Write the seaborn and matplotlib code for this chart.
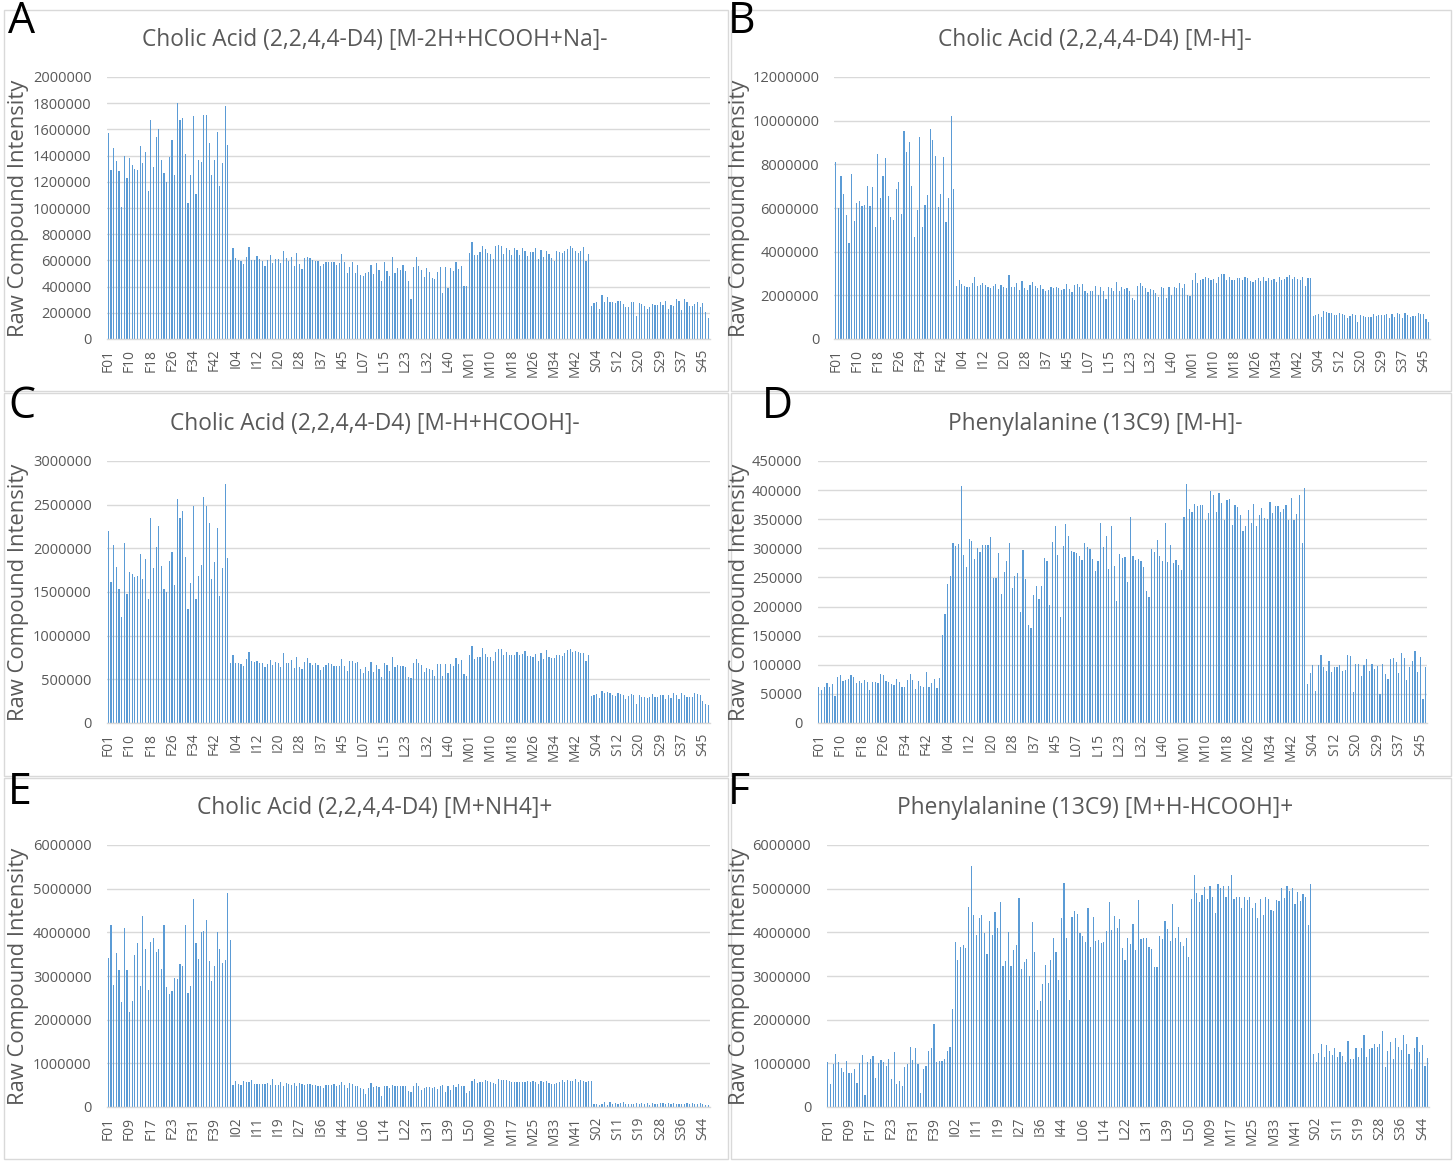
import numpy as np
import pandas as pd
import matplotlib
matplotlib.use("Agg")
import matplotlib.pyplot as plt
import seaborn as sns
from matplotlib.patches import Rectangle
from matplotlib.ticker import FuncFormatter

# ---------------------------------------------------------------- samples
def wells(prefix, first, last, skip=(), extra=()):
    """Well names of one plate, in injection order."""
    out = []
    for i in range(first, last + 1):
        if i in skip:
            continue
        out.append(f"{prefix}{i:02d}")
        if i in extra:
            out.append(f"{prefix}{i:02d}b")
    return out

# negative-ion injections
neg_samples = (wells("F", 1, 47, skip=(5,)) + wells("I", 2, 47, skip=(33,)) +
               wells("L", 2, 47, skip=(27,)) + wells("M", 1, 47, skip=(5,)) +
               wells("S", 2, 47, skip=(25,)))
# positive-ion injections
pos_samples = (wells("F", 1, 45, extra=(19, 21)) + wells("I", 1, 46, skip=(7, 31)) +
               wells("L", 1, 50, skip=(26, 42, 45, 48)) + wells("M", 1, 47, skip=(4,)) +
               wells("S", 1, 46, skip=(6, 23)))

# ---------------------------------------------------------------- intensities (thousands)
A_F = [1570, 1290, 1460, 1360, 1280, 1010, 1400, 1230, 1380, 1330, 1300, 1290, 1470, 1340, 1430,
       1130, 1670, 1310, 1540, 1600, 1370, 1270, 1200, 1390, 1520, 1250, 1800, 1670, 1690, 1410,
       1040, 1250, 1700, 1110, 1370, 1350, 1710, 1710, 1500, 1250, 1370, 1580, 1170, 1340, 1780, 1480]
A_IL = [600, 693, 617, 600, 594, 573, 624, 703, 604, 604, 634, 611, 594, 558, 604, 640, 578, 614,
        609, 578, 673, 617, 599, 624, 558, 657, 573, 538, 617, 624, 622, 604, 596, 594, 558, 573,
        589, 589, 591, 584, 563, 578, 652, 584, 507, 550, 591, 505, 563, 492, 484, 507, 512, 563,
        494, 578, 527, 446, 584, 522, 484, 624, 502, 543, 525, 563, 517, 446, 308, 548, 629, 558,
        527, 474, 540, 515, 464, 461, 515, 548, 354, 553, 387, 543, 517, 589, 535, 558, 405, 405]
A_M = [655, 744, 640, 645, 665, 713, 690, 660, 647, 611, 713, 716, 713, 650, 698, 680, 640, 696,
       680, 642, 693, 673, 634, 662, 665, 696, 614, 680, 624, 673, 652, 622, 599, 673, 662, 660,
       675, 688, 708, 698, 668, 660, 673, 706, 596, 650]
A_S = [252, 273, 283, 232, 334, 280, 318, 283, 283, 278, 290, 290, 268, 247, 242, 280, 280, 176,
       273, 265, 255, 229, 242, 265, 257, 262, 283, 260, 290, 232, 260, 250, 303, 290, 222, 303,
       283, 255, 255, 268, 283, 242, 273, 204, 160]

B_F = [8100, 6000, 7480, 6650, 5660, 4400, 7550, 5410, 6250, 6320, 6100, 6150, 7000, 6100, 6940,
       5150, 8490, 6470, 7480, 8300, 6560, 5600, 5460, 6850, 7190, 5730, 9540, 8560, 9040, 7030,
       4680, 5920, 9270, 5110, 6150, 6610, 9630, 9130, 8380, 6060, 6650, 8320, 5340, 6470, 10230, 6880]
B_IL = [2430, 2720, 2540, 2420, 2370, 2370, 2570, 2840, 2430, 2460, 2570, 2480, 2370, 2340, 2430,
        2520, 2310, 2490, 2370, 2340, 2940, 2390, 2390, 2550, 2260, 2650, 2350, 2250, 2490, 2600,
        2430, 2350, 2460, 2290, 2220, 2250, 2390, 2350, 2390, 2320, 2250, 2290, 2540, 2310, 2140,
        2460, 2510, 2370, 2520, 2190, 2090, 2200, 2190, 2450, 2020, 2400, 2220, 1830, 2400, 2320,
        2200, 2610, 2190, 2390, 2290, 2350, 2220, 1880, 1770, 2430, 2550, 2430, 2320, 2160, 2290,
        2250, 2090, 1910, 2390, 2340, 1880, 2390, 2000, 2390, 2320, 2550, 2340, 2510, 2000, 1970]
B_M = [2710, 3030, 2580, 2710, 2770, 2860, 2810, 2690, 2740, 2580, 2860, 2980, 2980, 2690, 2840,
       2720, 2680, 2780, 2780, 2720, 2830, 2800, 2660, 2610, 2710, 2800, 2660, 2830, 2660, 2800,
       2690, 2740, 2610, 2830, 2690, 2750, 2860, 2920, 2750, 2830, 2750, 2710, 2840, 2450, 2800, 2780]
B_S = [1070, 1100, 1130, 990, 1280, 1220, 1210, 1180, 1120, 1100, 1180, 1130, 1100, 960, 1040,
       1130, 1120, 760, 1100, 1050, 1020, 990, 1020, 1160, 1050, 1090, 1090, 1100, 1130, 950,
       1130, 990, 1210, 1130, 950, 1190, 1120, 1010, 1050, 1050, 1190, 1130, 1130, 920, 780]

C_F = [2200, 1620, 2040, 1790, 1530, 1210, 2060, 1480, 1730, 1710, 1670, 1680, 1930, 1650, 1880,
       1420, 2350, 1770, 2010, 2260, 1800, 1530, 1500, 1850, 1960, 1580, 2570, 2350, 2430, 1900,
       1300, 1600, 2480, 1420, 1680, 1810, 2590, 2490, 2290, 1650, 1840, 2230, 1450, 1770, 2740, 1890]
C_IL = [683, 782, 687, 687, 672, 653, 737, 817, 706, 699, 714, 687, 687, 641, 679, 721, 660, 699,
        683, 645, 802, 683, 683, 718, 626, 760, 637, 622, 695, 748, 683, 668, 683, 668, 607, 645,
        668, 683, 676, 653, 653, 656, 733, 656, 595, 710, 710, 687, 699, 618, 576, 645, 592, 699,
        580, 664, 618, 527, 687, 668, 599, 752, 645, 664, 649, 653, 645, 527, 511, 687, 733, 687,
        664, 588, 630, 618, 611, 538, 676, 676, 542, 676, 576, 676, 656, 748, 679, 718, 557, 542]
C_M = [779, 882, 737, 756, 760, 859, 790, 760, 752, 706, 809, 847, 847, 779, 813, 775, 779, 779,
       809, 779, 794, 824, 767, 767, 756, 790, 714, 802, 737, 836, 760, 748, 748, 775, 775, 771,
       798, 836, 847, 817, 824, 813, 802, 798, 710, 782]
C_S = [313, 317, 332, 290, 366, 347, 355, 344, 324, 313, 344, 328, 317, 279, 313, 332, 324, 218,
       324, 298, 298, 282, 298, 332, 302, 302, 321, 324, 275, 324, 282, 344, 324, 275, 347, 324,
       294, 298, 298, 344, 332, 324, 256, 221, 210]

D_F = [61.8, 57.2, 61.2, 68.6, 61.8, 67.5, 46.9, 79.5, 82.9, 72.6, 74.4, 76.1, 82.4, 78.4, 69.2,
       72.1, 69.2, 73.8, 70.9, 57.2, 69.8, 69.8, 68.6, 83.5, 82.4, 72.6, 70.9, 67.5, 65.2, 76.1,
       70.4, 61.8, 61.8, 73.8, 84.1, 73.8, 58.3, 71.5, 64.1, 61.8, 88.1, 61.8, 68.1, 75.5, 60.1, 77.8]
D_IL = [151.6, 187, 239, 252, 309, 304, 307, 407, 288, 268, 316, 313, 282, 301, 293, 306, 306, 306,
        319, 249, 249, 292, 221, 259, 279, 309, 232, 253, 258, 190, 297, 248, 168, 164, 220, 235,
        213, 235, 284, 279, 202, 311, 338, 288, 182, 304, 342, 322, 296, 293, 292, 287, 280, 309,
        303, 298, 282, 261, 278, 344, 303, 321, 264, 339, 270, 210, 290, 284, 285, 242, 353, 287,
        280, 281, 279, 268, 227, 216, 299, 293, 315, 286, 279, 343, 276, 305, 275, 280, 272, 263]
D_M = [354, 410, 368, 363, 376, 372, 374, 374, 349, 360, 399, 392, 363, 395, 378, 349, 383, 384,
       340, 374, 371, 357, 330, 338, 366, 343, 376, 339, 357, 369, 352, 351, 379, 361, 372, 373,
       362, 368, 375, 348, 387, 348, 359, 392, 309, 403]
D_S = [66.9, 86.4, 100, 55.5, 99, 116, 95.5, 89.8, 107, 87, 96.7, 95.5, 99.5, 88.7, 91, 116, 115,
       53.2, 102, 102, 80.7, 99.5, 110, 88.7, 102, 92.7, 98.4, 50.3, 102, 84.1, 76.1, 110, 112, 104,
       86.4, 121, 111, 73.8, 96.7, 106, 124, 88.1, 113, 41.2, 96.7]

E_F = [3420, 4170, 2800, 3520, 3130, 2400, 4090, 3140, 2180, 2420, 3470, 3750, 2780, 4370, 3610,
       2670, 3790, 3860, 3540, 3610, 3170, 4170, 2740, 2580, 2650, 2950, 2940, 3280, 3230, 4170,
       2620, 2780, 4760, 3750, 3390, 4010, 4040, 4280, 3340, 2880, 3220, 4010, 3620, 3300, 3360,
       4890, 3830]
E_IL = [497, 589, 520, 497, 596, 566, 566, 612, 520, 520, 535, 520, 535, 558, 505, 635, 512, 512,
        566, 482, 558, 520, 512, 558, 474, 558, 535, 512, 535, 520, 505, 497, 489, 482, 443, 497,
        497, 505, 520, 482, 505, 581, 512, 443, 550, 520, 489, 474, 443, 420, 298, 436, 550, 459,
        482, 466, 252, 489, 482, 443, 505, 474, 482, 482, 474, 474, 367, 352, 489, 550, 482, 390,
        436, 451, 460, 443, 451, 405, 474, 497, 352, 489, 398, 497, 466, 528, 489, 482, 329, 375]
E_M = [589, 650, 558, 566, 573, 619, 589, 581, 558, 535, 635, 619, 612, 619, 604, 573, 581, 581,
       566, 581, 573, 596, 581, 589, 573, 535, 604, 573, 596, 550, 535, 535, 550, 581, 627, 581,
       627, 596, 604, 650, 581, 612, 596, 566, 596, 604]
E_S = [61, 69, 54, 61, 115, 46, 107, 76, 99, 76, 92, 107, 69, 76, 61, 61, 84, 76, 84, 76, 84, 54,
       84, 61, 76, 84, 84, 69, 84, 61, 84, 69, 76, 61, 76, 84, 76, 84, 76, 61, 99, 69, 46, 38]

F_F = [1030, 530, 990, 1220, 1020, 890, 800, 1050, 790, 790, 880, 540, 1000, 1180, 280, 1020, 1090,
       1160, 670, 1010, 1070, 1030, 930, 1110, 630, 1250, 520, 600, 490, 910, 990, 1380, 1070, 1340,
       990, 330, 860, 950, 1280, 1360, 1900, 1040, 1060, 1060, 1090, 1290, 1380]
F_IL = [2240, 3790, 3360, 3670, 3700, 3630, 4570, 5510, 4390, 3950, 4330, 4400, 3990, 3510, 4270,
        3930, 4460, 4110, 4690, 3230, 3340, 4000, 3240, 3590, 3720, 4790, 3160, 3320, 3390, 3000,
        4240, 3540, 2210, 2430, 2810, 3260, 2850, 3370, 3880, 3540, 2900, 4320, 5120, 3870, 2440,
        4360, 4500, 4410, 3980, 3920, 3780, 4550, 3670, 4360, 3800, 3830, 3750, 3790, 4020, 4690,
        4050, 4380, 4100, 4300, 3650, 3360, 3880, 3740, 4180, 3590, 4740, 3850, 3880, 3880, 3670,
        3610, 3210, 3210, 3910, 3850, 4270, 4080, 3810, 4660, 3880, 4130, 3770, 3690, 3870, 3430]
F_M = [4760, 5310, 4900, 4690, 4850, 5040, 4760, 5050, 4810, 4440, 5110, 5020, 5070, 4810, 5060,
       5310, 4760, 4820, 4800, 4550, 4800, 4730, 4800, 4560, 4670, 4330, 4760, 4400, 4800, 4760,
       4510, 4490, 4740, 4720, 5020, 4780, 5050, 4950, 5010, 4660, 4920, 4710, 4880, 4800, 4170, 5100]
F_S = [1210, 1030, 1240, 1440, 1140, 1430, 1290, 1180, 1350, 1140, 1270, 1170, 1020, 1520, 1090,
       1090, 1340, 1150, 1350, 1650, 1150, 1320, 1350, 1440, 1380, 1440, 1750, 920, 1280, 1480,
       1090, 1570, 1380, 1300, 1650, 1440, 1220, 860, 1350, 1610, 1270, 1430, 950, 1130]

# ---------------------------------------------------------------- panels
W, H = 1455, 1161
panels = [
    # letter, title, samples, values, ymax, ystep, axes box (l, t, r, b) px, letter xy, column, row
    ("A", "Cholic Acid (2,2,4,4-D4) [M-2H+HCOOH+Na]-", neg_samples, A_F + A_IL + A_M + A_S,
     2000000, 200000, (107, 77, 709.5, 339), (8, 22), 0, 0),
    ("B", "Cholic Acid (2,2,4,4-D4) [M-H]-", neg_samples, B_F + B_IL + B_M + B_S,
     12000000, 2000000, (834.5, 77, 1430, 339), (728, 22), 1, 0),
    ("C", "Cholic Acid (2,2,4,4-D4) [M-H+HCOOH]-", neg_samples, C_F + C_IL + C_M + C_S,
     3000000, 500000, (107, 461, 709.5, 723), (8, 407), 0, 1),
    ("D", "Phenylalanine (13C9) [M-H]-", neg_samples, D_F + D_IL + D_M + D_S,
     450000, 50000, (817.5, 461, 1427, 723), (762, 407), 1, 1),
    ("E", "Cholic Acid (2,2,4,4-D4) [M+NH4]+", pos_samples, E_F + E_IL + E_M + E_S,
     6000000, 1000000, (107, 845, 709.5, 1107), (8, 793), 0, 2),
    ("F", "Phenylalanine (13C9) [M+H-HCOOH]+", pos_samples, F_F + F_IL + F_M + F_S,
     6000000, 1000000, (826.5, 845, 1429, 1107), (728, 793), 1, 2),
]

col_frames = [(4, 728), (731, 1451)]
row_frames = [(10, 391), (393, 776), (778, 1159)]
title_cx = [375, 1095]
ylabel_x = [19, 739]

BAR = "#5B9BD5"
GRID = "#D9D9D9"
TXT = "#595959"
FAMILY = ["Open Sans", "DejaVu Sans"]

sns.set_theme(style="white")
plt.rcParams["font.family"] = FAMILY

fig = plt.figure(figsize=(W / 100, H / 100), dpi=100)
renderer = fig.canvas.get_renderer()


def fx(x):
    return x / W


def fy(y):
    return 1 - y / H


def size_for(text, target_px, rotation=0, axis="w"):
    """Font size (pt) at which `text` spans target_px pixels."""
    probe = fig.text(0, 0, text, fontsize=10, rotation=rotation)
    bb = probe.get_window_extent(renderer)
    probe.remove()
    span = bb.width if axis == "w" else bb.height
    return 10 * target_px / span


TITLE_PT = size_for("Cholic Acid (2,2,4,4-D4) [M-2H+HCOOH+Na]-", 464)
YLABEL_PT = size_for("Raw Compound Intensity", 258)
YTICK_PT = size_for("2000000", 59)
XTICK_PT = size_for("F01", 23)
LETTER_PT = size_for("A", 27)

for letter, title, samples, vals_k, ymax, ystep, box, lpos, col, row in panels:
    values = np.asarray(vals_k, dtype=float) * 1000
    assert len(values) == len(samples), (letter, len(values), len(samples))
    df = pd.DataFrame({"sample": samples, "intensity": values})

    # chart frame
    x0, x1 = col_frames[col]
    y0, y1 = row_frames[row]
    fig.add_artist(Rectangle((fx(x0), fy(y1)), fx(x1) - fx(x0), fy(y0) - fy(y1),
                             transform=fig.transFigure, fill=False, edgecolor=GRID, linewidth=1))

    l, t, r, b = box
    ax = fig.add_axes([fx(l), fy(b), fx(r) - fx(l), fy(t) - fy(b)])
    sns.barplot(data=df, x="sample", y="intensity", order=samples, color=BAR,
                saturation=1, width=0.45, linewidth=0, ax=ax)
    ax.set_xlim(-0.5, len(samples) - 0.5)
    ax.set_ylim(0, ymax)
    ax.set_yticks(np.arange(0, ymax + 1, ystep))
    ax.yaxis.set_major_formatter(FuncFormatter(lambda v, p: f"{int(round(v))}"))
    ax.set_xticks(range(0, len(samples), 8))
    ax.set_xticklabels(samples[::8], rotation=90)
    ax.set_xlabel("")
    ax.set_ylabel("")
    ax.yaxis.grid(True, color=GRID, linewidth=1)
    ax.set_axisbelow(True)
    for s in ("top", "right", "left"):
        ax.spines[s].set_visible(False)
    ax.spines["bottom"].set_color(GRID)
    ax.spines["bottom"].set_linewidth(1)
    ax.tick_params(axis="y", length=0, pad=11, labelsize=YTICK_PT, labelcolor=TXT)
    ax.tick_params(axis="x", length=0, pad=7, labelsize=XTICK_PT, labelcolor=TXT)

    fig.text(fx(title_cx[col]), fy(t - 37), title, ha="center", va="center",
             fontsize=TITLE_PT, color=TXT)
    fig.text(fx(ylabel_x[col]), fy((t + b) / 2), "Raw Compound Intensity", rotation=90,
             ha="center", va="center", fontsize=YLABEL_PT, color=TXT)
    fig.text(fx(lpos[0]), fy(lpos[1]), letter, ha="left", va="center",
             fontsize=LETTER_PT, color="black")

fig.savefig("out.png", dpi=100, facecolor="white")
